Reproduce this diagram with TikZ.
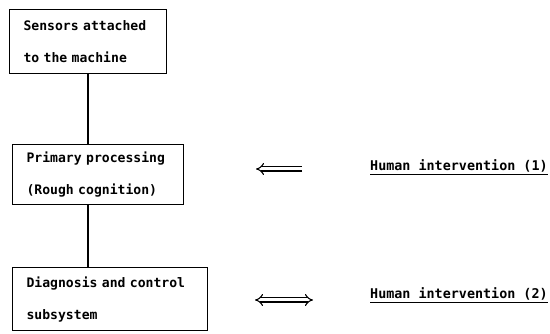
\documentclass[tikz,border=0pt]{standalone}
\usepackage{fontspec}
\setmonofont{DejaVu Sans Mono}
\usetikzlibrary{arrows.meta}
\begin{document}
\begin{tikzpicture}[x=1pt, y=-1pt,
    box/.style={rectangle, draw, line width=1.1pt, anchor=north west, align=left, inner xsep=14pt, inner ysep=0pt, font=\ttfamily\bfseries\fontsize{13.1}{32}\selectfont},
    note/.style={anchor=west, inner sep=0pt, font=\ttfamily\bfseries\fontsize{13.4}{16}\selectfont},
    link/.style={line width=1.5pt},
    dblarrow/.style={line width=1.1pt, double=white, double distance=3pt}
]
\useasboundingbox (0,0) rectangle (550,334);
\node[box, text width=129pt, minimum height=64pt] (sensors) at (9,9) {Sensors attached\\to the machine};
\node[box, text width=143pt, minimum height=60pt] (primary) at (12,144) {Primary processing\\(Rough cognition)};
\node[box, text width=167pt, minimum height=63pt] (diagnosis) at (12,267) {Diagnosis and control\\subsystem};
\node[note] (note1) at (370,167) {\underline{Human intervention (1)}};
\node[note] (note2) at (370,295) {\underline{Human intervention (2)}};
\coordinate (in1a) at (302,169);
\coordinate (in1b) at (256,169);
\coordinate (in2a) at (255,300);
\coordinate (in2b) at (313,300);
\draw[link] (sensors.south) -- (sensors |- primary.north);
\draw[link] (primary.south -| sensors) -- (diagnosis.north -| sensors);
\draw[dblarrow, -{Implies[scale=1.3]}] (in1a) -- (in1b);
\draw[dblarrow, {Implies[scale=1.3]}-{Implies[scale=1.3]}] (in2a) -- (in2b);
\end{tikzpicture}
\end{document}
